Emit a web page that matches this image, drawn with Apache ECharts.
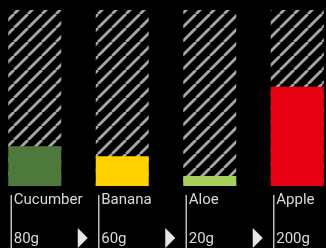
<!DOCTYPE html>
<html>
<head>
<meta charset="utf-8">
<script src="https://cdn.jsdelivr.net/npm/echarts@6/dist/echarts.min.js"></script>
<style>
  html, body { margin: 0; background: #000; }
  #main { width: 326px; height: 248px; }
</style>
</head>
<body>
<div id="main"></div>
<script>
var categories = ['Cucumber', 'Banana', 'Aloe', 'Apple'];
var grams = [80, 60, 20, 200];
var valueLabels = ['80g', '60g', '20g', '200g'];
var colors = ['#4d7a3c', '#ffd200', '#a6cf5b', '#e60012'];

// diagonal stripes for the empty part of each column
function hatchTile() {
  var s = 14;
  var c = document.createElement('canvas');
  c.width = s; c.height = s;
  var ctx = c.getContext('2d');
  ctx.fillStyle = '#000';
  ctx.fillRect(0, 0, s, s);
  ctx.strokeStyle = '#a6a6a6';
  ctx.lineWidth = 2.8;
  for (var k = -1; k <= 1; k++) {
    ctx.beginPath();
    ctx.moveTo(k * s, s);
    ctx.lineTo(k * s + s, 0);
    ctx.stroke();
  }
  return c;
}

var chart = echarts.init(document.getElementById('main'));
chart.setOption({
  backgroundColor: '#000',
  animation: false,
  grid: { left: -9, width: 350, top: 10, bottom: 62, outerBoundsMode: 'none', containLabel: false },
  xAxis: { type: 'category', data: categories, show: false },
  yAxis: { type: 'value', min: 0, max: 355, show: false },
  series: [
    {
      type: 'bar',
      barWidth: 53,
      data: grams.map(function (v, i) {
        return { value: v, itemStyle: { color: colors[i] } };
      }),
      showBackground: true,
      backgroundStyle: { color: { image: hatchTile(), repeat: 'repeat' } }
    },
    {
      // labels under each column: name, weight, divider and arrow
      type: 'custom',
      silent: true,
      data: grams.map(function (v, i) { return [i, v]; }),
      renderItem: function (params, api) {
        var i = api.value(0);
        var p = api.coord([i, 0]);
        var left = p[0] - 26;
        var y0 = p[1];
        return {
          type: 'group',
          children: [
            { type: 'line', shape: { x1: left + 2.5, y1: y0 + 9, x2: left + 2.5, y2: y0 + 70 },
              style: { stroke: '#bdbdbd', lineWidth: 1.5 } },
            { type: 'text', style: { text: categories[i], x: left + 5, y: y0 + 7,
              fill: '#dadada', fontSize: 15, fontFamily: 'Roboto', verticalAlign: 'top' } },
            { type: 'text', style: { text: valueLabels[i], x: left + 5, y: y0 + 46,
              fill: '#dadada', fontSize: 15, fontFamily: 'Roboto', verticalAlign: 'top' } },
            { type: 'polygon', shape: { points: [[p[0] + 43, y0 + 42], [p[0] + 53, y0 + 52], [p[0] + 43, y0 + 62]] },
              style: { fill: '#e6e6e6' } }
          ]
        };
      }
    }
  ]
});
</script>
</body>
</html>
